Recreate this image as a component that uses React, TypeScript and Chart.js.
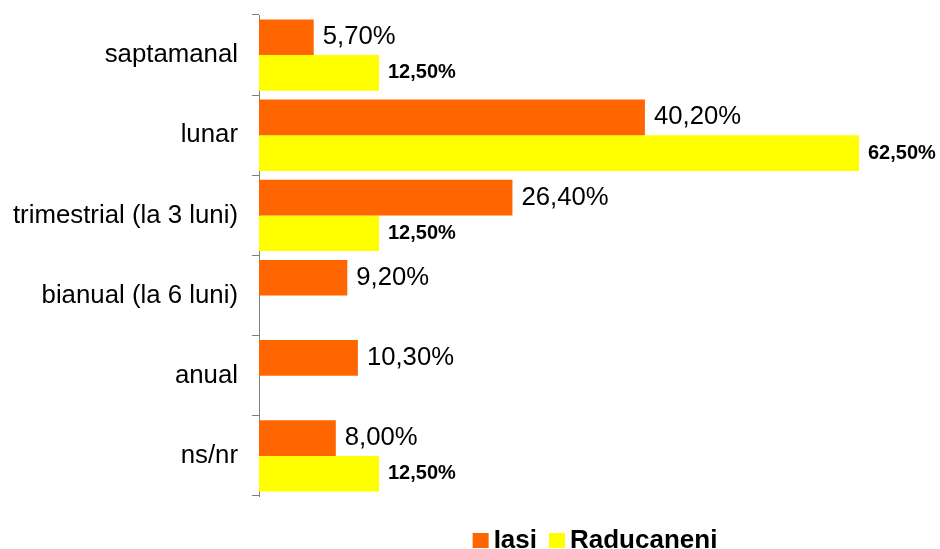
import React, { useEffect, useRef } from "react";
import { Chart, registerables } from "chart.js";

Chart.register(...registerables);

const categories = [
  "saptamanal",
  "lunar",
  "trimestrial (la 3 luni)",
  "bianual (la 6 luni)",
  "anual",
  "ns/nr",
];
const iasiValues: (number | null)[] = [5.7, 40.2, 26.4, 9.2, 10.3, 8.0];
const raducaneniValues: (number | null)[] = [12.5, 62.5, 12.5, null, null, 12.5];
const seriesNames = ["Iasi", "Raducaneni"];
const seriesColors = ["#FF6600", "#FFFF00"];

const fmt = (v: number) => v.toFixed(2).replace(".", ",") + "%";

const labelPlugin = {
  id: "valueLabels",
  afterDatasetsDraw(chart: any) {
    const ctx = chart.ctx;
    ctx.save();
    chart.data.datasets.forEach((ds: any, di: number) => {
      const meta = chart.getDatasetMeta(di);
      ctx.font = di === 0 ? "25.7px Arial, 'Liberation Sans', sans-serif" : "bold 20px Arial, 'Liberation Sans', sans-serif";
      ctx.fillStyle = "#000";
      ctx.textAlign = "left";
      ctx.textBaseline = "middle";
      meta.data.forEach((el: any, i: number) => {
        const v = ds.data[i];
        if (v === null || v === undefined) return;
        ctx.fillText(fmt(v), el.x + 9, el.y);
      });
    });
    ctx.restore();
  },
};

const legendPlugin = {
  id: "customLegend",
  afterDraw(chart: any) {
    const ctx = chart.ctx;
    const area = chart.chartArea;
    ctx.save();
    ctx.font = "bold 26px Arial, 'Liberation Sans', sans-serif";
    ctx.textBaseline = "alphabetic";
    const box = 16;
    const gapText = 5;
    const gapItem = 12;
    const items = chart.data.datasets.map((d: any) => ({
      label: d.label,
      color: d.backgroundColor,
      w: ctx.measureText(d.label).width,
    }));
    let total = 0;
    items.forEach((it: any, i: number) => {
      total += box + gapText + it.w + (i < items.length - 1 ? gapItem : 0);
    });
    let x = (area.left + area.right) / 2 - total / 2;
    const baseline = 548;
    items.forEach((it: any) => {
      ctx.fillStyle = it.color;
      ctx.fillRect(x, baseline - 15, box, 15);
      x += box + gapText;
      ctx.fillStyle = "#000";
      ctx.fillText(it.label, x, baseline);
      x += it.w + gapItem;
    });
    ctx.restore();
  },
};

export default function App() {
  const ref = useRef<HTMLCanvasElement | null>(null);
  useEffect(() => {
    if (!ref.current) return;
    const chart = new Chart(ref.current, {
      type: "bar",
      data: {
        labels: categories,
        datasets: [
          {
            label: seriesNames[0],
            data: iasiValues,
            backgroundColor: seriesColors[0],
            borderWidth: 0,
            categoryPercentage: 0.89,
            barPercentage: 1,
          },
          {
            label: seriesNames[1],
            data: raducaneniValues,
            backgroundColor: seriesColors[1],
            borderWidth: 0,
            categoryPercentage: 0.89,
            barPercentage: 1,
          },
        ],
      },
      options: {
        indexAxis: "y",
        animation: false,
        responsive: true,
        maintainAspectRatio: false,
        layout: { padding: { left: 0, right: 9, top: 15, bottom: 53 } },
        plugins: {
          legend: { display: false },
          tooltip: { enabled: false },
        },
        scales: {
          x: {
            display: false,
            min: 0,
            max: 70,
          },
          y: {
            afterFit: (scale: any) => {
              scale.width = 259;
              scale.paddingTop = 0;
              scale.paddingBottom = 0;
            },
            border: { display: true, color: "#808080", width: 1 },
            grid: {
              drawOnChartArea: false,
              drawTicks: true,
              tickLength: 7,
              color: "#808080",
              offset: true,
            },
            ticks: {
              color: "#000",
              padding: 14,
              font: { family: "Arial, 'Liberation Sans', sans-serif", size: 25.8 },
            },
          },
        },
      },
      plugins: [labelPlugin, legendPlugin],
    } as any);
    return () => chart.destroy();
  }, []);
  return (
    <div style={{ position: "absolute", left: 0, top: 0, width: 940, height: 549, background: "#fff" }}>
      <canvas ref={ref} />
    </div>
  );
}
